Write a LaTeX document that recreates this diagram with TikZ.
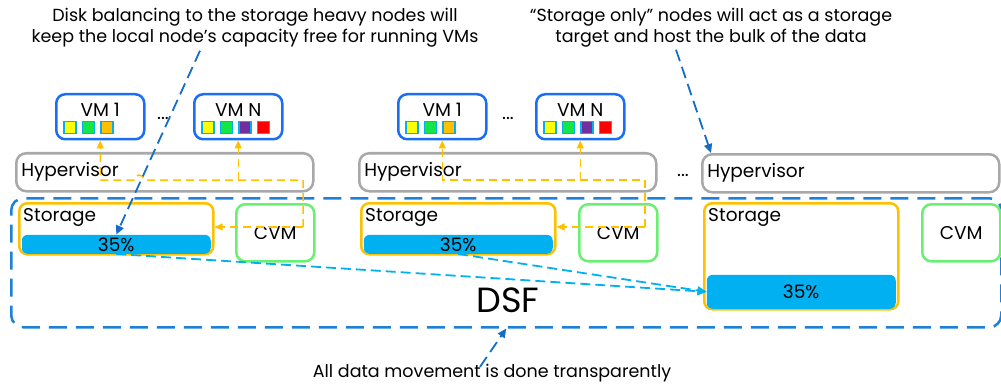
\documentclass[tikz,border=0pt]{standalone}
\usepackage{fontspec}
\setmainfont{Poppins}
\usetikzlibrary{positioning}
\usetikzlibrary{arrows.meta}
\definecolor{vmblue}{RGB}{25,110,245}
\definecolor{hypergray}{RGB}{168,168,168}
\definecolor{storegold}{RGB}{255,192,0}
\definecolor{barcyan}{RGB}{0,176,240}
\definecolor{cvmgreen}{RGB}{105,240,115}
\definecolor{dsfblue}{RGB}{30,128,215}
\definecolor{noteblue}{RGB}{20,110,200}
\definecolor{chipyellow}{RGB}{255,255,0}
\definecolor{chipgreen}{RGB}{20,230,70}
\definecolor{chipgold}{RGB}{255,192,0}
\definecolor{chippurple}{RGB}{112,48,160}
\definecolor{chipred}{RGB}{255,0,0}
\tikzset{
vm_box/.style={rectangle, rounded corners=9pt, draw=vmblue, line width=2.5pt, minimum width=88pt, minimum height=45pt, anchor=north west},
hyper_box/.style={rectangle, rounded corners=10pt, draw=hypergray, line width=2.5pt, minimum height=38pt, text width=287pt, inner xsep=5pt, align=left, anchor=north west},
storage_box/.style={rectangle, rounded corners=8pt, draw=storegold, line width=2.5pt, minimum width=194pt, anchor=north west},
bar/.style={rectangle, rounded corners=6pt, fill=barcyan, minimum width=189pt, inner sep=0pt, anchor=south},
cvm_box/.style={rectangle, rounded corners=9pt, draw=cvmgreen, line width=2.5pt, minimum width=78pt, minimum height=57pt, anchor=north west},
chip/.style={rectangle, draw=barcyan, line width=1.5pt, minimum size=12pt, inner sep=0pt},
label_text/.style={inner sep=0pt},
note/.style={align=center, inner sep=0pt, font=\fontsize{17.5pt}{21pt}\selectfont},
flow/.style={draw=storegold, line width=1.5pt, dash pattern=on 8pt off 5pt, -{Triangle[length=8pt,width=7pt]}},
note_arrow/.style={draw=noteblue, line width=1.8pt, dash pattern=on 12pt off 6pt, -{Triangle[length=9pt,width=8pt]}},
move_arrow/.style={draw=barcyan, line width=1.8pt, dash pattern=on 10pt off 5pt, -{Triangle[length=9pt,width=8pt]}}
}

\begin{document}
\begin{tikzpicture}[x=1pt, y=-1pt, font=\fontsize{18.5pt}{22pt}\selectfont]
    \useasboundingbox (0,0) rectangle (1001,385);

    % DSF frame
    \node[rectangle, rounded corners=12pt, draw=dsfblue, line width=2.5pt, dash pattern=on 18pt off 9pt, minimum width=990pt, minimum height=129pt, anchor=north west] (dsf_frame) at (10,197) {};
    \node[label_text, font=\fontsize{35pt}{40pt}\selectfont] (dsf_lbl) at (508,300) {DSF};

    % node A
    \node[vm_box] (vm1a) at (55,93) {};
    \node[label_text] (vm1a_lbl) at ([yshift=-17pt]vm1a.north) {VM 1};
    \node[chip, fill=chipyellow, anchor=north west] (vm1a_c1) at ([xshift=8pt,yshift=-28pt]vm1a.north west) {};
    \node[chip, fill=chipgreen, right=5pt of vm1a_c1] (vm1a_c2) {};
    \node[chip, fill=chipgold, right=5pt of vm1a_c2] (vm1a_c3) {};
    \node[label_text] (dots_a) at (163,118) {...};
    \node[vm_box] (vmna) at (193,93) {};
    \node[label_text] (vmna_lbl) at ([yshift=-17pt]vmna.north) {VM N};
    \node[chip, fill=chipyellow, anchor=north west] (vmna_c1) at ([xshift=8pt,yshift=-28pt]vmna.north west) {};
    \node[chip, fill=chipgreen, right=5pt of vmna_c1] (vmna_c2) {};
    \node[chip, fill=chippurple, right=5pt of vmna_c2] (vmna_c3) {};
    \node[chip, fill=chipred, right=5pt of vmna_c3] (vmna_c4) {};
    \node[hyper_box] (hyper_a) at (15,152) {Hypervisor};
    \node[storage_box, minimum height=51pt] (store_a) at (18,202) {};
    \node[bar, minimum height=19pt] (bar_a) at ([yshift=1.5pt]store_a.south) {35\%};
    \node[label_text, anchor=west] (store_a_lbl) at ([xshift=5pt,yshift=-15pt]store_a.north west) {Storage};
    \node[cvm_box] (cvm_a) at (235,203) {CVM};

    % node B
    \node[vm_box] (vm1b) at (397,93) {};
    \node[label_text] (vm1b_lbl) at ([yshift=-17pt]vm1b.north) {VM 1};
    \node[chip, fill=chipyellow, anchor=north west] (vm1b_c1) at ([xshift=8pt,yshift=-28pt]vm1b.north west) {};
    \node[chip, fill=chipgreen, right=5pt of vm1b_c1] (vm1b_c2) {};
    \node[chip, fill=chipgold, right=5pt of vm1b_c2] (vm1b_c3) {};
    \node[label_text] (dots_b) at (508,118) {...};
    \node[vm_box] (vmnb) at (535,93) {};
    \node[label_text] (vmnb_lbl) at ([yshift=-17pt]vmnb.north) {VM N};
    \node[chip, fill=chipyellow, anchor=north west] (vmnb_c1) at ([xshift=8pt,yshift=-28pt]vmnb.north west) {};
    \node[chip, fill=chipgreen, right=5pt of vmnb_c1] (vmnb_c2) {};
    \node[chip, fill=chippurple, right=5pt of vmnb_c2] (vmnb_c3) {};
    \node[chip, fill=chipred, right=5pt of vmnb_c3] (vmnb_c4) {};
    \node[hyper_box] (hyper_b) at (358,152) {Hypervisor};
    \node[storage_box, minimum height=51pt] (store_b) at (360,202) {};
    \node[bar, minimum height=19pt] (bar_b) at ([yshift=1.5pt]store_b.south) {35\%};
    \node[label_text, anchor=west] (store_b_lbl) at ([xshift=5pt,yshift=-15pt]store_b.north west) {Storage};
    \node[cvm_box] (cvm_b) at (578,203) {CVM};

    % storage only node C
    \node[label_text] (dots_c) at (683,175) {...};
    \node[hyper_box] (hyper_c) at (701,153) {Hypervisor};
    \node[storage_box, minimum height=106pt] (store_c) at (703,202) {};
    \node[bar, minimum height=34pt] (bar_c) at ([yshift=1.5pt]store_c.south) {35\%};
    \node[label_text, anchor=west] (store_c_lbl) at ([xshift=5pt,yshift=-15pt]store_c.north west) {Storage};
    \node[cvm_box] (cvm_c) at (921,203) {CVM};

    % IO paths through the CVM
    \coordinate (hub_a) at (303,227);
    \coordinate (bus_a) at (303,180);
    \coordinate (hop_a) at (144,180);
    \draw[flow] (hub_a) -- (hub_a -| store_a.east);
    \draw[flow] (hub_a) -- (bus_a) -- (hop_a) arc[start angle=0, end angle=180, radius=5pt] -- (bus_a -| vm1a.south) -- (vm1a.south);
    \draw[flow] (bus_a -| vmna.south) -- (vmna.south);
    \coordinate (hub_b) at (645,227);
    \coordinate (bus_b) at (645,180);
    \draw[flow] (hub_b) -- (hub_b -| store_b.east);
    \draw[flow] (hub_b) -- (bus_b) -- (bus_b -| vm1b.south) -- (vm1b.south);
    \draw[flow] (bus_b -| vmnb.south) -- (vmnb.south);

    % disk balancing
    \draw[move_arrow] (bar_a.south) -- (bar_c.west);
    \draw[move_arrow] (bar_b.south) -- (bar_c.west);

    % notes
    \node[note] (note_a) at (255,28) {Disk balancing to the storage heavy nodes will\\keep the local node’s capacity free for running VMs};
    \node[note] (note_b) at (711,28) {“Storage only” nodes will act as a storage\\target and host the bulk of the data};
    \node[note] (note_c) at (492,373) {All data movement is done transparently};
    \draw[note_arrow] ([xshift=-55pt,yshift=-3pt]note_a.south) -- (bar_a.north);
    \draw[note_arrow] ([xshift=-35pt,yshift=-2pt]note_b.south) -- ([xshift=10pt]hyper_c.north west);
    \draw[note_arrow] ([xshift=-12pt,yshift=-3pt]note_c.north) -- (dsf_frame.south);
\end{tikzpicture}
\end{document}
